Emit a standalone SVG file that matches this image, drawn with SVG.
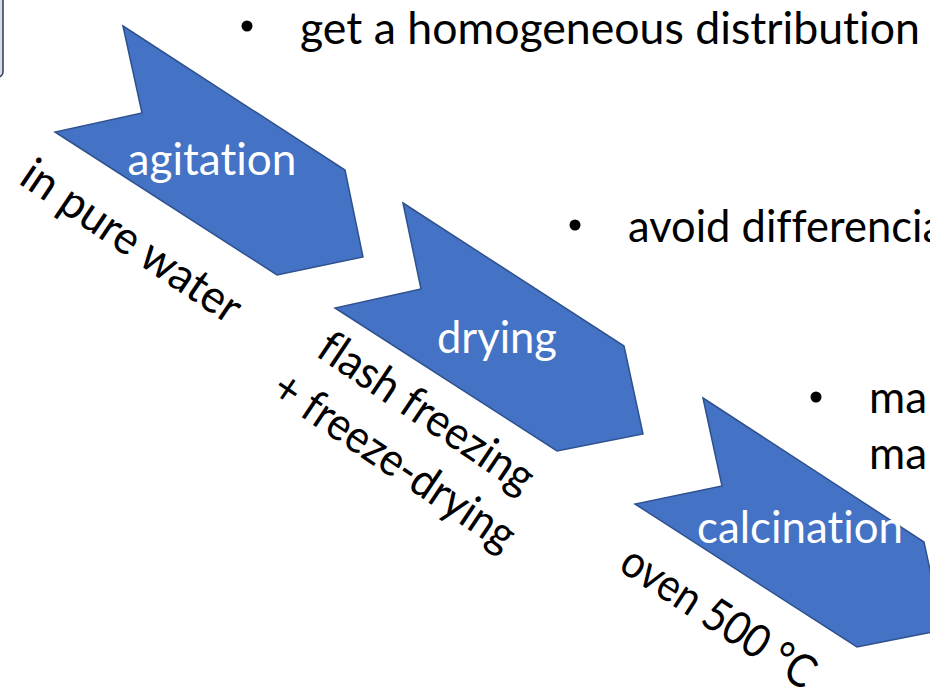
<svg xmlns="http://www.w3.org/2000/svg" width="930" height="688" viewBox="0 0 930 688">
  <style>
    text { font-variant-ligatures: none; font-feature-settings: "liga" 0, "clig" 0; }
    .chev { fill: #4472C4; stroke: #2F528F; stroke-width: 1.5; stroke-linejoin: miter; }
    .lbl { font-family: Lato, "Open Sans", "Liberation Sans", sans-serif; font-size: 44px; fill: #FFFFFF; text-anchor: middle; }
    .note { font-family: Lato, "Open Sans", "Liberation Sans", sans-serif; font-size: 46px; fill: #000000; text-anchor: middle; }
    .bul { font-family: Lato, "Open Sans", "Liberation Sans", sans-serif; font-size: 44px; fill: #000000; }
    .dot { fill: #000000; }
  </style>
  <rect width="930" height="688" fill="#FFFFFF"/>

  <g id="corner-box">
    <rect x="-30" y="-10" width="33" height="87" rx="5" fill="#D6DCE8" stroke="#2F3B55" stroke-width="1.5"/>
  </g>

  <g id="step-agitation">
    <polygon class="chev" points="123,26 345,170 363,257 277,275 55,132 142,113"/>
    <text class="lbl" x="212" y="175" textLength="169" lengthAdjust="spacingAndGlyphs">agitation</text>
  </g>
  <g id="note-agitation">
    <text class="note" transform="translate(123,254) rotate(34)" x="0" y="0" textLength="255" lengthAdjust="spacingAndGlyphs">in pure water</text>
  </g>

  <g id="step-drying">
    <polygon class="chev" points="403,203 624,346 643,434 557,451 335,308 421,289"/>
    <text class="lbl" x="497" y="353" textLength="120" lengthAdjust="spacingAndGlyphs">drying</text>
  </g>
  <g id="note-drying">
    <text class="note" transform="translate(418,425) rotate(34)" x="0" y="0" textLength="250" lengthAdjust="spacingAndGlyphs">flash freezing</text>
    <text class="note" transform="translate(386,474) rotate(34)" x="0" y="0" textLength="282" lengthAdjust="spacingAndGlyphs">+ freeze-drying</text>
  </g>

  <g id="step-calcination">
    <polygon class="chev" points="703,398 924,542 943,630 857,647 635,504 722,486"/>
    <text class="lbl" x="800" y="543" textLength="206" lengthAdjust="spacingAndGlyphs">calcination</text>
  </g>
  <g id="note-calcination">
    <text class="note" transform="translate(710,630) rotate(33)" x="0" y="0" textLength="222" lengthAdjust="spacingAndGlyphs">oven 500 °C</text>
  </g>

  <g id="bullet-1">
    <circle class="dot" cx="247" cy="26" r="5.5"/>
    <text class="bul" x="300" y="44" textLength="620" lengthAdjust="spacingAndGlyphs">get a homogeneous distribution</text>
  </g>
  <g id="bullet-2">
    <circle class="dot" cx="575" cy="225" r="5.5"/>
    <text class="bul" x="628" y="242" textLength="316" lengthAdjust="spacingAndGlyphs">avoid differencia</text>
  </g>
  <g id="bullet-3">
    <circle class="dot" cx="816" cy="397" r="5.5"/>
    <text class="bul" x="869" y="413">ma</text>
    <text class="bul" x="869" y="469">ma</text>
  </g>
</svg>
